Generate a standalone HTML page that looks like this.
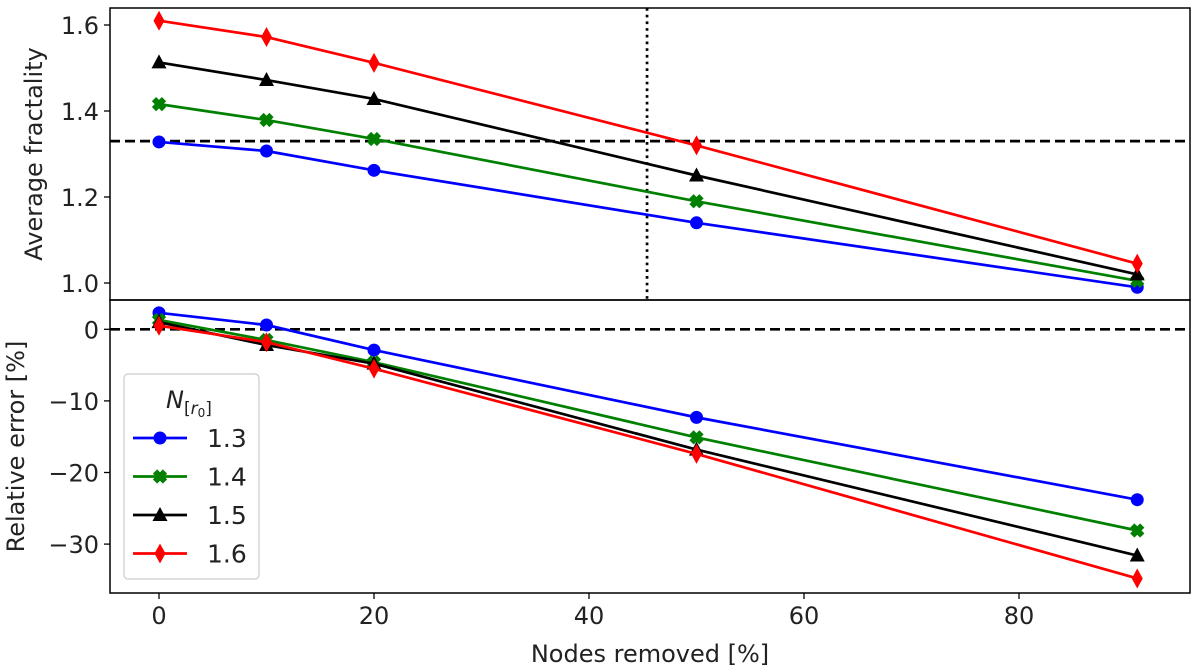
<!DOCTYPE html>
<html><head><meta charset="utf-8"><style>
html,body{margin:0;padding:0;background:#fff;}
svg{display:block;font-family:"DejaVu Sans","Liberation Sans",sans-serif;}
</style></head><body>
<svg id="chart" width="1200" height="672" viewBox="0 0 1200 672"></svg>
<script>
const xs = [0, 10, 20, 50, 91];
const seriesNames = ["1.3", "1.4", "1.5", "1.6"];
const topBlue = [1.328, 1.307, 1.262, 1.14, 0.99];
const topGreen = [1.416, 1.379, 1.335, 1.19, 1.005];
const topBlack = [1.513, 1.472, 1.428, 1.25, 1.02];
const topRed = [1.61, 1.572, 1.512, 1.32, 1.045];
const botBlue = [2.3, 0.6, -2.9, -12.3, -23.8];
const botGreen = [1.3, -1.5, -4.6, -15.1, -28.1];
const botBlack = [1.0, -2.2, -4.8, -16.8, -31.6];
const botRed = [0.5, -1.8, -5.5, -17.4, -34.8];
const xTicks = [0, 20, 40, 60, 80];
const topTicks = [1.0, 1.2, 1.4, 1.6];
const botTicks = [0, -10, -20, -30];
const refLine = 1.33;
const vLine = 45.4;

const NS = "http://www.w3.org/2000/svg";
const svg = document.getElementById("chart");
function mk(tag, attrs, parent) {
  const e = document.createElementNS(NS, tag);
  for (const k in attrs) e.setAttribute(k, attrs[k]);
  (parent || svg).appendChild(e);
  return e;
}
const L = 110, R = 1190, T = 8, M = 300, B = 593;
const X = v => 159 + v * 10.75;
const YT = v => 283 - (v - 1.0) * 430;
const YB = v => 329.3 - v * 7.16;

const colors = ["#0000ff", "#008000", "#000000", "#ff0000"];
const markers = ["circle", "x", "tri", "diamond"];
const topData = [topBlue, topGreen, topBlack, topRed];
const botData = [botBlue, botGreen, botBlack, botRed];

function marker(kind, cx, cy, col, g) {
  let e;
  if (kind === "circle") e = mk("circle", {cx, cy, r: 6.5, fill: col}, g);
  else if (kind === "tri") e = mk("polygon", {points: `${cx},${cy-8} ${cx-7.5},${cy+6} ${cx+7.5},${cy+6}`, fill: col}, g);
  else if (kind === "diamond") e = mk("polygon", {points: `${cx},${cy-10} ${cx+5.5},${cy} ${cx},${cy+10} ${cx-5.5},${cy}`, fill: col}, g);
  else {
    e = mk("g", {}, g);
    mk("line", {x1: cx-5, y1: cy-5, x2: cx+5, y2: cy+5, stroke: col, "stroke-width": 6}, e);
    mk("line", {x1: cx-5, y1: cy+5, x2: cx+5, y2: cy-5, stroke: col, "stroke-width": 6}, e);
  }
  return e;
}

function drawPanel(data, Y, name) {
  const g = mk("g", {});
  
  
  data.forEach((arr, i) => {
    const pts = arr.map((v, j) => X(xs[j]) + "," + Y(v)).join(" ");
    const pl = mk("polyline", {points: pts, fill: "none", stroke: colors[i], "stroke-width": 2.7}, g);
    
    
    arr.forEach((v, j) => {
      const m = marker(markers[i], X(xs[j]), Y(v), colors[i], g);
      
      
    });
  });
}

const hl = mk("line", {x1: L, x2: R, y1: YT(refLine), y2: YT(refLine), stroke: "#000", "stroke-width": 2.7, "stroke-dasharray": "10,5"});


const vl = mk("line", {x1: X(vLine), x2: X(vLine), y1: T, y2: M, stroke: "#000", "stroke-width": 2.7, "stroke-dasharray": "2.7,4"});


const zl = mk("line", {x1: L, x2: R, y1: YB(0), y2: YB(0), stroke: "#000", "stroke-width": 2.7, "stroke-dasharray": "10,5"});



drawPanel(topData, YT, "top");
drawPanel(botData, YB, "bottom");

const f1 = mk("rect", {x: L, y: T, width: R-L, height: M-T, fill: "none", stroke: "#000", "stroke-width": 1.5});


const f2 = mk("rect", {x: L, y: M, width: R-L, height: B-M, fill: "none", stroke: "#000", "stroke-width": 1.5});



topTicks.forEach(t => {
  mk("line", {x1: L-6, x2: L, y1: YT(t), y2: YT(t), stroke: "#000", "stroke-width": 1.3});
  const tx = mk("text", {x: L-11, y: YT(t)+9, "text-anchor": "end", "font-size": 24, fill: "#222"});
  tx.textContent = t.toFixed(1);
  
  
});
botTicks.forEach(t => {
  mk("line", {x1: L-6, x2: L, y1: YB(t), y2: YB(t), stroke: "#000", "stroke-width": 1.3});
  const tx = mk("text", {x: L-11, y: YB(t)+9, "text-anchor": "end", "font-size": 24, fill: "#222"});
  tx.textContent = t < 0 ? "\u2212" + Math.abs(t) : String(t);
  
  
});
xTicks.forEach(t => {
  mk("line", {x1: X(t), x2: X(t), y1: B, y2: B+6, stroke: "#000", "stroke-width": 1.3});
  const tx = mk("text", {x: X(t), y: B+31, "text-anchor": "middle", "font-size": 24, fill: "#222"});
  tx.textContent = String(t);
  
  
});

const yt1 = mk("text", {x: 0, y: 0, transform: `translate(42,${(T+M)/2}) rotate(-90)`, "text-anchor": "middle", "font-size": 24, fill: "#222"});
yt1.textContent = "Average fractality";


const yt2 = mk("text", {x: 0, y: 0, transform: `translate(24,${(M+B)/2}) rotate(-90)`, "text-anchor": "middle", "font-size": 24, fill: "#222"});
yt2.textContent = "Relative error [%]";


const xt = mk("text", {x: (L+R)/2, y: 662, "text-anchor": "middle", "font-size": 24, fill: "#222"});
xt.textContent = "Nodes removed [%]";



const lg = mk("g", {});


mk("rect", {x: 124, y: 374, width: 135, height: 205, rx: 4, fill: "#fff", "fill-opacity": 0.8, stroke: "#ccc", "stroke-width": 1.2}, lg);
const lt = mk("text", {x: 166, y: 408, "font-size": 24, "font-style": "italic", fill: "#222"}, lg);
lt.innerHTML = 'N<tspan font-size="17" dy="6" font-style="normal">[</tspan><tspan font-size="17" font-style="italic">r</tspan><tspan font-size="12" dy="3" font-style="normal">0</tspan><tspan font-size="17" dy="-3" font-style="normal">]</tspan>';


seriesNames.forEach((n, i) => {
  const y = 438 + i * 38.5;
  const eg = mk("g", {}, lg);
  
  
  mk("line", {x1: 133, x2: 187, y1: y, y2: y, stroke: colors[i], "stroke-width": 2.7}, eg);
  marker(markers[i], 160, y, colors[i], eg);
  const t = mk("text", {x: 207, y: y + 9, "font-size": 25, fill: "#222"}, eg);
  t.textContent = n;
});
</script>
</body></html>
